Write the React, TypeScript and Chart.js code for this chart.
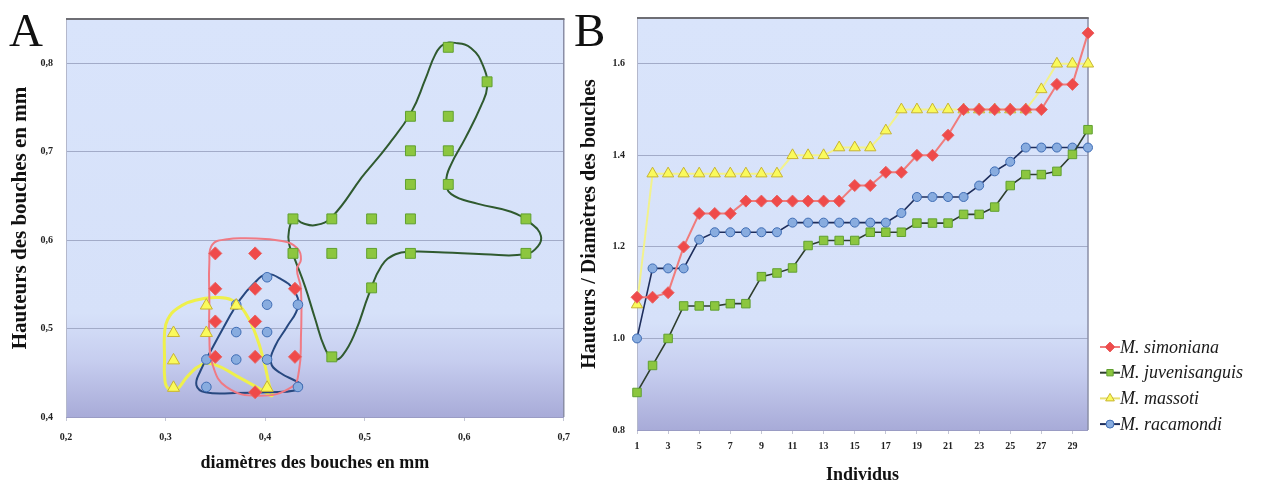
import React, { useEffect, useRef } from 'react';
import { Chart, registerables } from 'chart.js';
Chart.register(...registerables);

const SERIF = "'Liberation Serif', 'Times New Roman', serif";

// ---------------- Panel A : scatter ----------------
const xTicksA = [0.2, 0.3, 0.4, 0.5, 0.6, 0.7];
const yTicksA = [0.4, 0.5, 0.6, 0.7, 0.8];

const simonianaDiamA = [0.35, 0.39, 0.35, 0.39, 0.43, 0.35, 0.39, 0.35, 0.39, 0.43, 0.39];
const simonianaHautA = [0.585, 0.585, 0.545, 0.545, 0.545, 0.508, 0.508, 0.468, 0.468, 0.468, 0.428];

const juvenisDiamA = [0.584, 0.623, 0.546, 0.584, 0.546, 0.584, 0.546, 0.584, 0.428, 0.467, 0.507, 0.546, 0.662, 0.428, 0.467, 0.507, 0.546, 0.662, 0.507, 0.467];
const juvenisHautA = [0.818, 0.779, 0.740, 0.740, 0.701, 0.701, 0.663, 0.663, 0.624, 0.624, 0.624, 0.624, 0.624, 0.585, 0.585, 0.585, 0.585, 0.585, 0.546, 0.468];

const massotiDiamA = [0.308, 0.308, 0.308, 0.341, 0.341, 0.371, 0.402];
const massotiHautA = [0.495, 0.464, 0.433, 0.526, 0.495, 0.526, 0.433];

const racamondiDiamA = [0.402, 0.371, 0.402, 0.433, 0.371, 0.402, 0.341, 0.371, 0.402, 0.341, 0.433];
const racamondiHautA = [0.558, 0.527, 0.527, 0.527, 0.496, 0.496, 0.465, 0.465, 0.465, 0.434, 0.434];

// hand-drawn envelopes (data space)
const redOutlineX = [0.344, 0.344, 0.347, 0.362, 0.381, 0.417, 0.432, 0.436, 0.432, 0.436, 0.436, 0.434, 0.427, 0.394, 0.361, 0.347, 0.344, 0.344];
const redOutlineY = [0.530, 0.575, 0.595, 0.601, 0.602, 0.599, 0.591, 0.578, 0.567, 0.545, 0.490, 0.452, 0.434, 0.424, 0.434, 0.460, 0.490, 0.530];

const blueOutlineX = [0.365, 0.347, 0.335, 0.331, 0.340, 0.370, 0.405, 0.430, 0.437, 0.432, 0.415, 0.406, 0.410, 0.422, 0.433, 0.429, 0.416, 0.401, 0.388, 0.375, 0.365];
const blueOutlineY = [0.515, 0.478, 0.452, 0.436, 0.428, 0.427, 0.428, 0.430, 0.435, 0.440, 0.450, 0.461, 0.480, 0.502, 0.525, 0.543, 0.556, 0.561, 0.550, 0.533, 0.515];

const yellowOutlineX = [0.299, 0.299, 0.302, 0.312, 0.330, 0.350, 0.367, 0.380, 0.391, 0.399, 0.404, 0.407, 0.396, 0.372, 0.350, 0.336, 0.322, 0.311, 0.302, 0.299, 0.299];
const yellowOutlineY = [0.465, 0.495, 0.510, 0.523, 0.532, 0.535, 0.532, 0.518, 0.492, 0.462, 0.437, 0.424, 0.431, 0.446, 0.459, 0.459, 0.446, 0.431, 0.433, 0.447, 0.465];

const greenOutlineX = [0.497, 0.524, 0.547, 0.561, 0.571, 0.579, 0.591, 0.607, 0.619, 0.623, 0.617, 0.601, 0.587, 0.582, 0.587, 0.614, 0.647, 0.667, 0.677, 0.674, 0.661, 0.620, 0.580, 0.547, 0.531, 0.517, 0.504, 0.491, 0.478, 0.469, 0.460, 0.450, 0.440, 0.430, 0.424, 0.424, 0.429, 0.438, 0.451, 0.467, 0.497];
const greenOutlineY = [0.671, 0.708, 0.745, 0.782, 0.810, 0.821, 0.823, 0.817, 0.797, 0.773, 0.752, 0.715, 0.686, 0.667, 0.652, 0.641, 0.632, 0.619, 0.605, 0.593, 0.584, 0.584, 0.586, 0.587, 0.584, 0.571, 0.538, 0.497, 0.470, 0.465, 0.478, 0.512, 0.548, 0.578, 0.596, 0.611, 0.624, 0.619, 0.617, 0.626, 0.671];

// ---------------- Panel B : ratio per individual ----------------
const individus = ['1', '2', '3', '4', '5', '6', '7', '8', '9', '10', '11', '12', '13', '14', '15', '16', '17', '18', '19', '20', '21', '22', '23', '24', '25', '26', '27', '28', '29', '30'];
const yTicksB = [0.8, 1.0, 1.2, 1.4, 1.6];

const simonianaB = [1.09, 1.09, 1.10, 1.20, 1.273, 1.273, 1.273, 1.30, 1.30, 1.30, 1.30, 1.30, 1.30, 1.30, 1.334, 1.334, 1.363, 1.363, 1.40, 1.40, 1.444, 1.50, 1.50, 1.50, 1.50, 1.50, 1.50, 1.555, 1.555, 1.667];
const juvenisanguisB = [0.882, 0.941, 1.0, 1.071, 1.071, 1.071, 1.076, 1.076, 1.135, 1.143, 1.154, 1.203, 1.214, 1.214, 1.214, 1.232, 1.232, 1.232, 1.252, 1.252, 1.252, 1.271, 1.271, 1.287, 1.334, 1.358, 1.358, 1.365, 1.402, 1.456];
const massotiB = [1.074, 1.36, 1.36, 1.36, 1.36, 1.36, 1.36, 1.36, 1.36, 1.36, 1.40, 1.40, 1.40, 1.417, 1.417, 1.417, 1.454, 1.50, 1.50, 1.50, 1.50, 1.50, 1.50, 1.50, 1.50, 1.50, 1.544, 1.60, 1.60, 1.60];
const racamondiB = [1.0, 1.153, 1.153, 1.153, 1.216, 1.232, 1.232, 1.232, 1.232, 1.232, 1.253, 1.253, 1.253, 1.253, 1.253, 1.253, 1.253, 1.274, 1.309, 1.309, 1.309, 1.309, 1.334, 1.365, 1.386, 1.417, 1.417, 1.417, 1.417, 1.417];

const speciesNames = ['M. simoniana', 'M. juvenisanguis', 'M. massoti', 'M. racamondi'];

// styles
const ST = {
  simoniana: { line: '#f07c7c', fill: '#ef4a4a', border: '#e86464', style: 'rectRot' },
  juvenis: { line: '#2e3e2e', fill: '#8cc63f', border: '#60a030', style: 'rect' },
  massoti: { line: '#f2f28c', fill: '#fafa5c', border: '#c8b432', style: 'triangle' },
  racamondi: { line: '#1e2e5c', fill: '#88acdf', border: '#3f6db5', style: 'circle' },
};

const zip = (xs: number[], ys: number[]) => xs.map((x, i) => ({ x, y: ys[i] }));

const plotBg = {
  id: 'plotBg',
  beforeDraw(chart: any) {
    const { ctx, chartArea: a } = chart;
    const g = ctx.createLinearGradient(0, a.top, 0, a.bottom);
    g.addColorStop(0, '#d9e4fb');
    g.addColorStop(0.74, '#d6e1f9');
    g.addColorStop(0.86, '#c6cdef');
    g.addColorStop(1, '#a8abd8');
    ctx.save();
    ctx.fillStyle = g;
    ctx.fillRect(a.left, a.top, a.right - a.left, a.bottom - a.top);
    ctx.restore();
  },
  beforeDatasetsDraw(chart: any) {
    const { ctx, chartArea: a } = chart;
    ctx.save();
    ctx.strokeStyle = '#b4b8cc';
    ctx.lineWidth = 1;
    ctx.beginPath();
    ctx.moveTo(a.left + 0.5, a.top);
    ctx.lineTo(a.left + 0.5, a.bottom);
    ctx.stroke();
    ctx.strokeStyle = '#8a8ea6';
    ctx.lineWidth = 1.5;
    ctx.beginPath();
    ctx.moveTo(a.right, a.top);
    ctx.lineTo(a.right, a.bottom);
    ctx.stroke();
    ctx.strokeStyle = '#9a9cc4';
    ctx.lineWidth = 1;
    ctx.beginPath();
    ctx.moveTo(a.left, a.bottom + 0.5);
    ctx.lineTo(a.right, a.bottom + 0.5);
    ctx.stroke();
    ctx.strokeStyle = '#6e6e74';
    ctx.lineWidth = 2;
    ctx.beginPath();
    ctx.moveTo(a.left, a.top);
    ctx.lineTo(a.right + 0.75, a.top);
    ctx.stroke();
    ctx.restore();
  },
};

function drawMarker(ctx: CanvasRenderingContext2D, style: string, x: number, y: number, r: number, fill: string, stroke: string) {
  ctx.beginPath();
  if (style === 'rectRot') {
    ctx.moveTo(x, y - r); ctx.lineTo(x + r, y); ctx.lineTo(x, y + r); ctx.lineTo(x - r, y); ctx.closePath();
  } else if (style === 'rect') {
    const s = r * Math.SQRT1_2;
    ctx.rect(x - s, y - s, 2 * s, 2 * s);
  } else if (style === 'triangle') {
    ctx.moveTo(x, y - r); ctx.lineTo(x + r * 0.87, y + r * 0.5); ctx.lineTo(x - r * 0.87, y + r * 0.5); ctx.closePath();
  } else {
    ctx.arc(x, y, r, 0, Math.PI * 2);
  }
  ctx.fillStyle = fill;
  ctx.fill();
  ctx.strokeStyle = stroke;
  ctx.lineWidth = 1;
  ctx.stroke();
}

const legendB = {
  id: 'legendB',
  afterDraw(chart: any) {
    const { ctx, chartArea: a } = chart;
    const styles = [ST.simoniana, ST.juvenis, ST.massoti, ST.racamondi];
    const radii = [5, 4.5, 5, 4];
    ctx.save();
    chart.data.datasets.forEach((ds: any, i: number) => {
      const y = a.bottom - 83 + i * 25.7;
      const x0 = a.right + 12;
      const s = styles[i];
      ctx.strokeStyle = s.line === '#f2f28c' ? '#e8e070' : s.line;
      ctx.lineWidth = 2;
      ctx.beginPath();
      ctx.moveTo(x0, y);
      ctx.lineTo(x0 + 20, y);
      ctx.stroke();
      drawMarker(ctx, s.style, x0 + 10, y, radii[i], s.fill, s.border);
      ctx.fillStyle = '#1a1a1a';
      ctx.font = `italic 18px ${SERIF}`;
      ctx.textBaseline = 'middle';
      ctx.textAlign = 'left';
      ctx.fillText(ds.label, x0 + 20, y + 1);
    });
    ctx.restore();
  },
};

const tickFont = { family: SERIF, size: 10, weight: 'bold' as const };
const gridColor = '#a2abc8';

function ChartA() {
  const ref = useRef<HTMLCanvasElement>(null);
  useEffect(() => {
    const outline = (xs: number[], ys: number[], color: string, w: number) => ({
      type: 'scatter' as const,
      data: zip(xs, ys),
      showLine: true,
      borderColor: color,
      borderWidth: w,
      pointRadius: 0,
      tension: 0.45,
      fill: false,
      clip: false as const,
    });
    const pts = (label: string, xs: number[], ys: number[], s: any, r: number) => ({
      type: 'scatter' as const,
      label,
      data: zip(xs, ys),
      pointStyle: s.style,
      pointRadius: r,
      pointBackgroundColor: s.fill,
      pointBorderColor: s.border,
      pointBorderWidth: 1,
      clip: false as const,
    });
    const chart = new Chart(ref.current!, {
      type: 'scatter',
      data: {
        datasets: [
          pts(speciesNames[0], simonianaDiamA, simonianaHautA, ST.simoniana, 6.5),
          pts(speciesNames[1], juvenisDiamA, juvenisHautA, ST.juvenis, 7),
          pts(speciesNames[2], massotiDiamA, massotiHautA, ST.massoti, 7),
          pts(speciesNames[3], racamondiDiamA, racamondiHautA, ST.racamondi, 4.8),
          outline(redOutlineX, redOutlineY, '#f07a84', 2),
          outline(blueOutlineX, blueOutlineY, '#27487f', 2),
          outline(yellowOutlineX, yellowOutlineY, '#eef04c', 3),
          outline(greenOutlineX, greenOutlineY, '#2f5a2f', 2),
        ] as any,
      },
      options: {
        animation: false,
        responsive: false,
        events: [],
        layout: { padding: { top: 13, right: 14, left: 0, bottom: 0 } },
        plugins: { legend: { display: false }, tooltip: { enabled: false } },
        scales: {
          x: {
            type: 'linear',
            min: 0.2,
            max: 0.7,
            afterBuildTicks: (s: any) => { s.ticks = xTicksA.map((v) => ({ value: v })); },
            afterFit: (s: any) => { s.height = 68; },
            ticks: { font: tickFont, color: '#222', padding: 10, maxRotation: 0, callback: (v: any) => Number(v).toFixed(1).replace('.', ',') },
            grid: { drawOnChartArea: false, tickLength: 4, tickColor: '#c4c6d4' },
            border: { display: false },
            title: { display: true, text: 'diamètres des bouches en mm', font: { family: SERIF, size: 18, weight: 'bold', lineHeight: 1 }, color: '#111', padding: { top: 0, bottom: 13 } },
          },
          y: {
            type: 'linear',
            min: 0.4,
            max: 0.85,
            afterBuildTicks: (s: any) => { s.ticks = yTicksA.map((v) => ({ value: v })); },
            afterFit: (s: any) => { s.width = 66; },
            ticks: { font: tickFont, color: '#222', padding: 13, callback: (v: any) => Number(v).toFixed(1).replace('.', ',') },
            grid: { color: gridColor, lineWidth: 1, drawTicks: false },
            border: { display: false },
            title: { display: true, text: 'Hauteurs des bouches en mm', font: { family: SERIF, size: 21, weight: 'bold', lineHeight: 1 }, color: '#111', padding: { top: 10, bottom: 0 } },
          },
        },
      },
      plugins: [plotBg],
    });
    return () => chart.destroy();
  }, []);
  return <canvas ref={ref} width={580} height={485} style={{ position: 'absolute', left: 0, top: 0, width: 580, height: 485 }} />;
}

function ChartB() {
  const ref = useRef<HTMLCanvasElement>(null);
  useEffect(() => {
    const series = (label: string, values: number[], s: any, r: number, lw: number) => ({
      label,
      data: values,
      borderColor: s.line,
      borderWidth: lw,
      pointStyle: s.style,
      pointRadius: r,
      pointBackgroundColor: s.fill,
      pointBorderColor: s.border,
      pointBorderWidth: 1,
      tension: 0,
      fill: false,
      clip: false as const,
    });
    const chart = new Chart(ref.current!, {
      type: 'line',
      data: {
        labels: individus,
        datasets: [
          series(speciesNames[0], simonianaB, ST.simoniana, 6, 2),
          series(speciesNames[1], juvenisanguisB, ST.juvenis, 6, 1.6),
          series(speciesNames[2], massotiB, ST.massoti, 6.5, 2),
          series(speciesNames[3], racamondiB, ST.racamondi, 4.5, 1.6),
        ] as any,
      },
      options: {
        animation: false,
        responsive: false,
        events: [],
        layout: { padding: { top: 12, right: 174, left: 0, bottom: 0 } },
        plugins: { legend: { display: false }, tooltip: { enabled: false } },
        scales: {
          x: {
            type: 'category',
            offset: false,
            afterFit: (s: any) => { s.height = 55; },
            ticks: {
              font: tickFont,
              color: '#222',
              padding: 6,
              autoSkip: false,
              maxRotation: 0,
              callback: function (this: any, v: any, i: number) { return i % 2 === 0 ? this.getLabelForValue(v) : ''; },
            },
            grid: { drawOnChartArea: false, tickLength: 4, tickColor: (c: any) => (c.index % 2 === 0 ? '#c4c6d4' : 'rgba(0,0,0,0)') },
            border: { display: false },
            title: { display: true, text: 'Individus', font: { family: SERIF, size: 18, weight: 'bold', lineHeight: 1 }, color: '#111', padding: { top: 0, bottom: 1 } },
          },
          y: {
            type: 'linear',
            min: 0.8,
            max: 1.7,
            afterBuildTicks: (s: any) => { s.ticks = yTicksB.map((v) => ({ value: v })); },
            afterFit: (s: any) => { s.width = 57; },
            ticks: { font: tickFont, color: '#222', padding: 12, callback: (v: any) => Number(v).toFixed(1) },
            grid: { color: gridColor, lineWidth: 1, drawTicks: false },
            border: { display: false },
            title: { display: true, text: 'Hauteurs / Diamètres des bouches', font: { family: SERIF, size: 20, weight: 'bold', lineHeight: 1 }, color: '#111', padding: { top: 0, bottom: 0 } },
          },
        },
      },
      plugins: [plotBg, legendB],
    });
    return () => chart.destroy();
  }, []);
  return <canvas ref={ref} width={682} height={485} style={{ position: 'absolute', left: 580, top: 0, width: 682, height: 485 }} />;
}

export default function App() {
  return (
    <div style={{ position: 'fixed', left: 0, top: 0, width: 1262, height: 485, background: '#fff', overflow: 'hidden' }}>
      <ChartA />
      <ChartB />
      <div style={{ position: 'absolute', left: 9, top: 7, fontFamily: SERIF, fontSize: 47, lineHeight: 1, color: '#111' }}>A</div>
      <div style={{ position: 'absolute', left: 574, top: 7, fontFamily: SERIF, fontSize: 47, lineHeight: 1, color: '#111' }}>B</div>
    </div>
  );
}
